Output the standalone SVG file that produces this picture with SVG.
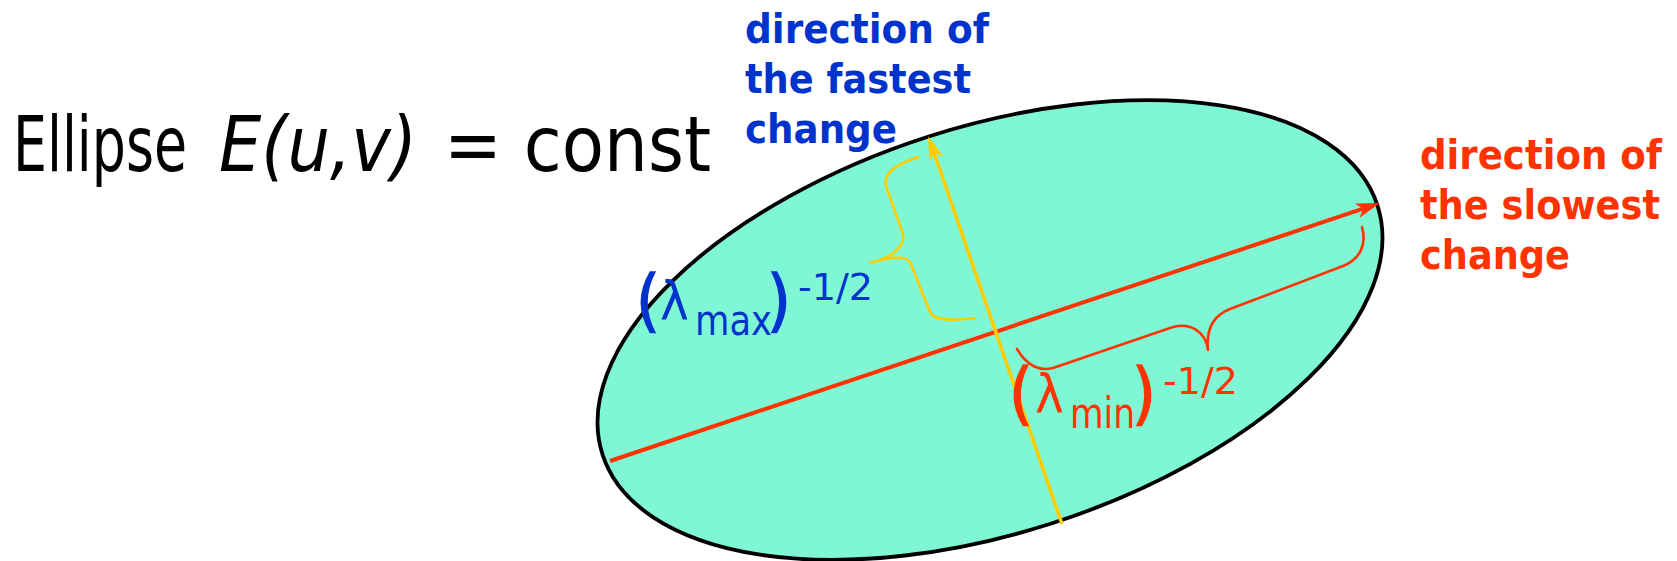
<svg xmlns="http://www.w3.org/2000/svg" width="1677" height="561" viewBox="0 0 1677 561">
<style>
.t{font-family:"DejaVu Sans Condensed","DejaVu Sans",sans-serif}
.lbl{font-family:"DejaVu Sans Condensed","DejaVu Sans",sans-serif;font-weight:bold;font-size:41px}
.blue{fill:#0033cc}
.red{fill:#ff3300}
.par{font-size:68px}
.blue .par{stroke:#0033cc;stroke-width:1.4}
.red .par{stroke:#ff3300;stroke-width:1.4}
.brace{fill:none;stroke-width:2.6;stroke-linecap:round;stroke-linejoin:round}
</style>
<defs>
<marker id="arRed" viewBox="-26 -9 28 18" refX="-6" refY="0" markerWidth="28" markerHeight="18" markerUnits="userSpaceOnUse" orient="auto">
<path d="M0,0 L-24,-7.5 L-18,0 L-24,7.5 Z" fill="#ff3300"/>
</marker>
<marker id="arYel" viewBox="-26 -9 28 18" refX="-6" refY="0" markerWidth="28" markerHeight="18" markerUnits="userSpaceOnUse" orient="auto">
<path d="M0,0 L-24,-7.5 L-18,0 L-24,7.5 Z" fill="#ffcc00"/>
</marker>
</defs>
<rect width="1677" height="561" fill="#ffffff"/>
<g id="ellipse">
<ellipse cx="0" cy="0" rx="407" ry="203" transform="translate(990 330) rotate(-17.8)" fill="#80f7d4" stroke="#000000" stroke-width="3.8"/>
</g>
<g id="connectors">
<line x1="610" y1="461" x2="1374.3" y2="204.9" stroke="#ff3300" stroke-width="4" marker-end="url(#arRed)"/>
<line x1="1062" y1="524" x2="930.3" y2="141.8" stroke="#ffcc00" stroke-width="3.5" marker-end="url(#arYel)"/>
</g>
<g id="brace-max">
<path class="brace" stroke="#ffcc00" d="M918,157 C898,164 883,172 886,186 L903,234 C906,248 888,259 870,263 C886,258 905,254 910,262 L930,312 C934,322 958,320 975,318"/>
</g>
<g id="brace-min">
<path class="brace" stroke="#ff3300" d="M1017,349 C1026,365 1040,373 1056,367 L1170,328 C1190,321 1206,332 1208,350 C1206,330 1212,316 1230,309 L1343,266 C1360,259 1367,245 1362,227"/>
</g>
<g id="title">
<text class="t" x="13" y="171" font-size="77" textLength="174" lengthAdjust="spacingAndGlyphs">Ellipse</text>
<text class="t" x="219" y="171" font-size="77" font-style="italic" textLength="198" lengthAdjust="spacingAndGlyphs">E(u,v)</text>
<text class="t" x="444" y="171" font-size="77" textLength="267" lengthAdjust="spacingAndGlyphs">= const</text>
</g>
<g id="label-fastest" class="blue">
<text class="lbl" x="745" y="43" textLength="244" lengthAdjust="spacingAndGlyphs">direction of</text>
<text class="lbl" x="745" y="93" textLength="226" lengthAdjust="spacingAndGlyphs">the fastest</text>
<text class="lbl" x="745" y="143" textLength="152" lengthAdjust="spacingAndGlyphs">change</text>
</g>
<g id="label-slowest" class="red">
<text class="lbl" x="1420" y="169" textLength="242" lengthAdjust="spacingAndGlyphs">direction of</text>
<text class="lbl" x="1420" y="219" textLength="240" lengthAdjust="spacingAndGlyphs">the slowest</text>
<text class="lbl" x="1420" y="269" textLength="150" lengthAdjust="spacingAndGlyphs">change</text>
</g>
<g id="lambda-max" class="blue">
<text class="t"><tspan class="par" x="636" y="324">(</tspan><tspan x="660" y="320" font-size="54">λ</tspan><tspan x="695" y="335" font-size="42" textLength="77" lengthAdjust="spacingAndGlyphs">max</tspan><tspan class="par" x="767" y="324">)</tspan><tspan x="798" y="300" font-size="38" textLength="75" lengthAdjust="spacingAndGlyphs">-1/2</tspan></text>
</g>
<g id="lambda-min" class="red">
<text class="t"><tspan class="par" x="1009" y="417">(</tspan><tspan x="1035" y="413" font-size="54">λ</tspan><tspan x="1070" y="428" font-size="42" textLength="65" lengthAdjust="spacingAndGlyphs">min</tspan><tspan class="par" x="1132" y="417">)</tspan><tspan x="1163" y="394" font-size="38" textLength="75" lengthAdjust="spacingAndGlyphs">-1/2</tspan></text>
</g>
</svg>
